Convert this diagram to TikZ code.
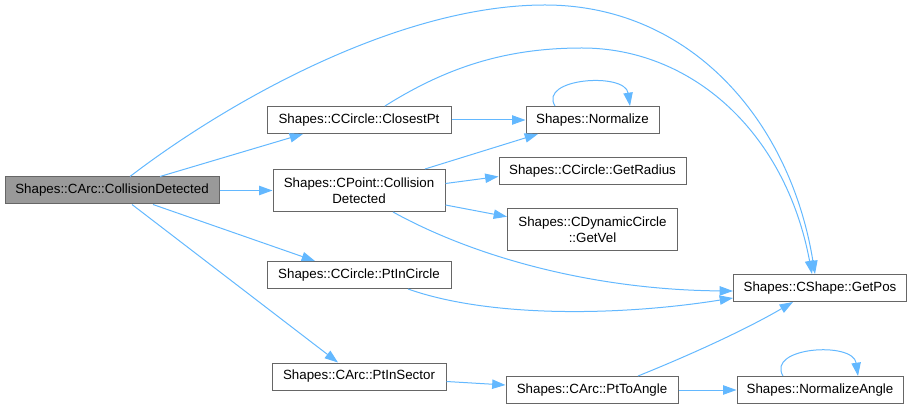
\documentclass[tikz,border=0pt]{standalone}
\usepackage{fontspec}
\setmainfont{Liberation Sans}
\usetikzlibrary{arrows.meta,calc}
\definecolor{edgeblue}{HTML}{63B8FF}
\definecolor{boxline}{HTML}{666666}
\definecolor{mainfill}{HTML}{999999}
\begin{document}
\begin{tikzpicture}[x=0.75pt,y=-0.75pt,
  fn/.style={draw=boxline,line width=0.75pt,fill=white,inner sep=0pt,
    font=\fontsize{10pt}{12pt}\selectfont,align=center},
  edge/.style={draw=edgeblue,line width=0.75pt,
    -{Triangle[length=10pt,width=7pt]}}]
\useasboundingbox (0,0) rectangle (912,409);
\node[fn,fill=mainfill,minimum width=214*0.75pt,minimum height=27*0.75pt] (main) at (112,190.5) {Shapes::CArc::CollisionDetected};
\node[fn,minimum width=184*0.75pt,minimum height=27*0.75pt] (closest) at (359,120) {Shapes::CCircle::ClosestPt};
\node[fn,minimum width=172*0.75pt,minimum height=42*0.75pt] (cpoint) at (359,190.5) {Shapes::CPoint::Collision\\Detected};
\node[fn,minimum width=184*0.75pt,minimum height=27*0.75pt] (ptincircle) at (359,275) {Shapes::CCircle::PtInCircle};
\node[fn,minimum width=174*0.75pt,minimum height=27*0.75pt] (ptinsector) at (359,376.5) {Shapes::CArc::PtInSector};
\node[fn,minimum width=133*0.75pt,minimum height=27*0.75pt] (normalize) at (592.5,120) {Shapes::Normalize};
\node[fn,minimum width=187*0.75pt,minimum height=27*0.75pt] (getradius) at (592.5,171.5) {Shapes::CCircle::GetRadius};
\node[fn,minimum width=170*0.75pt,minimum height=42*0.75pt] (getvel) at (592.5,229.7) {Shapes::CDynamicCircle\\::GetVel};
\node[fn,minimum width=172*0.75pt,minimum height=27*0.75pt] (ptoangle) at (592,390) {Shapes::CArc::PtToAngle};
\node[fn,minimum width=173*0.75pt,minimum height=27*0.75pt] (getpos) at (820,288) {Shapes::CShape::GetPos};
\node[fn,minimum width=166*0.75pt,minimum height=27*0.75pt] (normangle) at (820,390) {Shapes::NormalizeAngle};

% edges
\draw[edge] ($(main.north)+(18,0)$) .. controls (230,100) and (400,5) .. (545,5)
  .. controls (690,5) and (790,120) .. ($(getpos.north)+(-5,0)$);
\draw[edge] ($(closest.north)+(26,0)$) .. controls (450,65) and (510,48) .. (582,48)
  .. controls (690,48) and (785,130) .. ($(getpos.north)+(-8,0)$);
\draw[edge] ($(main.north)+(48,0)$) -- ($(closest.south)+(-56,0)$);
\draw[edge] (main.east) -- (cpoint.west);
\draw[edge] ($(main.south)+(41,0)$) -- ($(ptincircle.north)+(-44,0)$);
\draw[edge] ($(main.south)+(20,0)$) -- ($(ptinsector.north)+(-21,0)$);
\draw[edge] (closest.east) -- (normalize.west);
\draw[edge] ($(cpoint.north)+(66,0)$) -- ($(normalize.south)+(-54.5,0)$);
\draw[edge] ($(cpoint.east)+(0,-7)$) -- ($(getradius.west)+(0,5)$);
\draw[edge] ($(cpoint.east)+(0,14.5)$) -- ($(getvel.west)+(0,-13)$);
\draw[edge] ($(cpoint.south)+(34,0)$) .. controls (480,260) and (600,290) .. ($(getpos.west)+(0,3)$);
\draw[edge] ($(ptincircle.south)+(49,0)$) .. controls (490,318) and (620,316) .. ($(getpos.west)+(0,10)$);
\draw[edge] ($(ptinsector.east)+(0,5)$) -- ($(ptoangle.west)+(0,-5)$);
\draw[edge] ($(ptoangle.north)+(46,0)$) .. controls (690,355) and (745,330) .. ($(getpos.south)+(-27,0)$);
\draw[edge] (ptoangle.east) -- (normangle.west);
\draw[edge] ($(normalize.north)+(-37.5,0)$) .. controls (538,78) and (625,72) .. ($(normalize.north)+(37.5,0)$);
\draw[edge] ($(normangle.north)+(-37,0)$) .. controls (766,347) and (853,341) .. ($(normangle.north)+(38,0)$);
\end{tikzpicture}
\end{document}
